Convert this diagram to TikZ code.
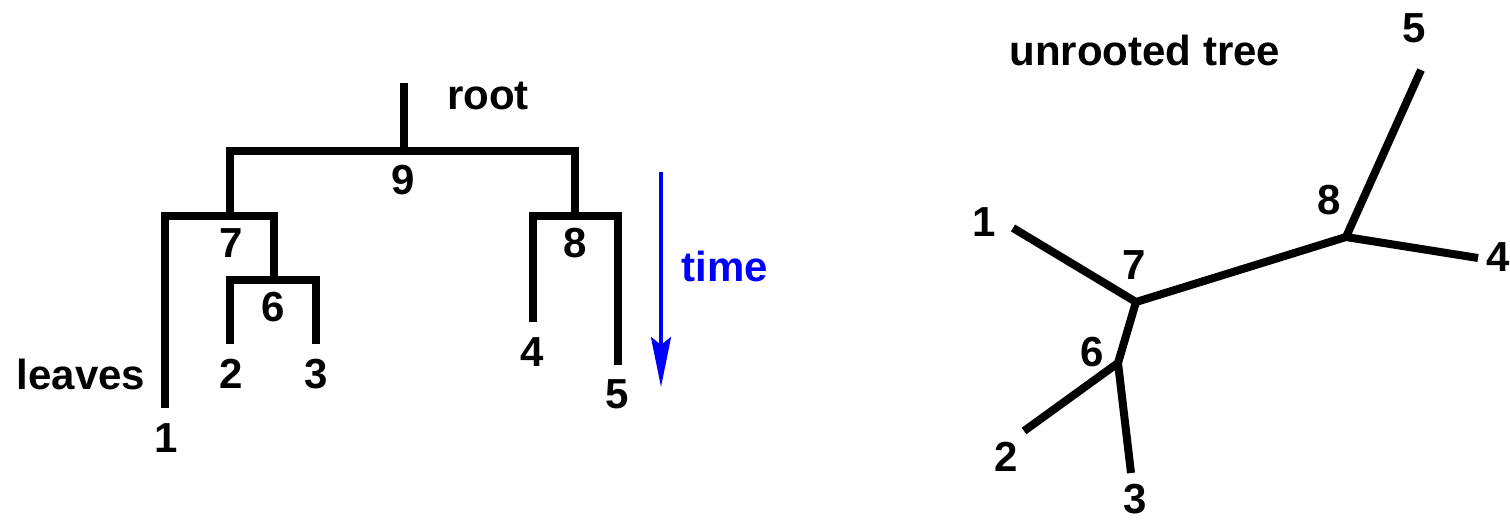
\documentclass[tikz,border=0pt]{standalone}
\usepackage{fontspec}
\setmainfont{Liberation Sans}
\usetikzlibrary{arrows.meta}
\begin{document}
\begin{tikzpicture}[x=1pt,y=-1pt,
  lbl/.style={font=\fontsize{42}{50}\selectfont\bfseries, inner sep=0pt, anchor=center},
  br/.style={line width=8pt, line join=miter, line cap=butt},
  timearrow/.style={blue, line width=4pt, -{Stealth[length=50pt,width=20pt,inset=8pt]}}]
\useasboundingbox (0,0) rectangle (1510,520);
% ---------- rooted tree ----------
\coordinate (r0) at (404,83);
\coordinate (n9) at (404,151);
\coordinate (b9l) at (230,151);
\coordinate (b9r) at (575,151);
\coordinate (a7) at (230,216);
\coordinate (a8) at (575,216);
\coordinate (c7l) at (165,216);
\coordinate (c7r) at (274,216);
\coordinate (a6) at (274,280);
\coordinate (c6l) at (230,280);
\coordinate (c6r) at (316,280);
\coordinate (c8l) at (533,216);
\coordinate (c8r) at (618,216);
\coordinate (l1) at (165,408);
\coordinate (l2) at (230,344);
\coordinate (l3) at (316,344);
\coordinate (l4) at (533,322);
\coordinate (l5) at (618,365);
\draw[br] (r0) -- (n9);
\draw[br] (a7) -- (b9l) -- (b9r) -- (a8);
\draw[br] (l1) -- (c7l) -- (c7r) -- (a6);
\draw[br] (l2) -- (c6l) -- (c6r) -- (l3);
\draw[br] (l4) -- (c8l) -- (c8r) -- (l5);
\node[lbl] (root) at (488,96) {root};
\node[lbl] (t9) at (403,180) {9};
\node[lbl] (t7) at (231,243) {7};
\node[lbl] (t8) at (575,243) {8};
\node[lbl] (t6) at (273,307) {6};
\node[lbl] (t2) at (231,374) {2};
\node[lbl] (t3) at (316,374) {3};
\node[lbl] (t4) at (532,352) {4};
\node[lbl] (t5) at (617,394) {5};
\node[lbl] (t1) at (166,438) {1};
\node[lbl] (leaves) at (81,374) {leaves};
% time arrow
\coordinate (ts) at (661,172);
\coordinate (te) at (661,387);
\draw[timearrow] (ts) -- (te);
\node[lbl, text=blue] (time) at (725,266) {time};
% ---------- unrooted tree ----------
\coordinate (u7) at (1136,302);
\coordinate (u6) at (1118,363);
\coordinate (u8) at (1346,237);
\coordinate (u1) at (1013,228);
\coordinate (u2) at (1024,431);
\coordinate (u3) at (1131,473);
\coordinate (u5) at (1421,70);
\coordinate (u4) at (1478,258);
\draw[br] (u1) -- (u7) -- (u8) -- (u4);
\draw[br] (u7) -- (u6);
\draw[br] (u2) -- (u6) -- (u3);
\draw[br] (u8) -- (u5);
\node[lbl] (unr) at (1145,50) {unrooted tree};
\node[lbl] (v1) at (984,222) {1};
\node[lbl] (v7) at (1134,265) {7};
\node[lbl] (v8) at (1329,200) {8};
\node[lbl] (v6) at (1092,352) {6};
\node[lbl] (v2) at (1006,457) {2};
\node[lbl] (v3) at (1135,499) {3};
\node[lbl] (v5) at (1414,28) {5};
\node[lbl] (v4) at (1498,257) {4};
\end{tikzpicture}
\end{document}
